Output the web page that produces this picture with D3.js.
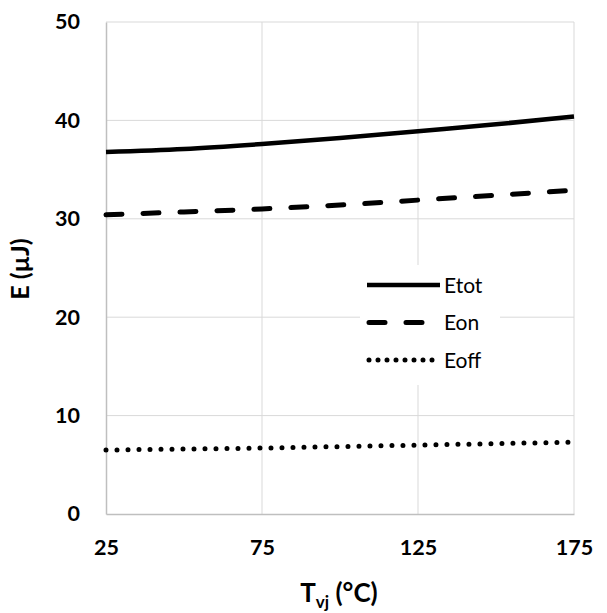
<!DOCTYPE html>
<html>
<head>
<meta charset="utf-8">
<script src="https://cdn.jsdelivr.net/npm/d3@7"></script>
<style>
  body { margin: 0; background: #fff; }
  text { font-family: Lato, "Liberation Sans", sans-serif; }
</style>
</head>
<body>
<div id="chartGoesHere"></div>
<script>
// switching energy vs junction temperature

var temps = [25, 50, 75, 100, 125, 150, 175],
    eTot = [36.8, 37.1, 37.6, 38.2, 38.9, 39.6, 40.4],
    eOn = [30.4, 30.7, 31.0, 31.4, 31.9, 32.4, 32.9],
    eOff = [6.5, 6.6, 6.7, 6.85, 7.0, 7.15, 7.3],
    xTicks = [25, 75, 125, 175],
    yTicks = [0, 10, 20, 30, 40, 50],
    seriesNames = ["Etot", "Eon", "Eoff"];

var width = 607, height = 613,
    margin = {top: 22, right: 33, bottom: 99, left: 106};

var svg = d3.select("#chartGoesHere")
  .append("svg")
  .attr("width", width)
  .attr("height", height);

var xScale = d3.scaleLinear().domain([25, 175]).range([margin.left, width - margin.right]);
var yScale = d3.scaleLinear().domain([0, 50]).range([height - margin.bottom, margin.top]);

// gridlines
svg.append("g")
  .selectAll("line.hgrid")
  .data(yTicks.slice(1))
  .join("line")
  .attr("x1", xScale(25)).attr("x2", xScale(175))
  .attr("y1", d => yScale(d)).attr("y2", d => yScale(d))
  .attr("stroke", "#d9d9d9").attr("stroke-width", 1);

svg.append("g")
  .selectAll("line.vgrid")
  .data(xTicks.slice(1))
  .join("line")
  .attr("x1", d => xScale(d)).attr("x2", d => xScale(d))
  .attr("y1", yScale(0)).attr("y2", yScale(50))
  .attr("stroke", "#d9d9d9").attr("stroke-width", 1);

// axes
var xAxis = d3.axisBottom(xScale).tickValues(xTicks).tickSize(0).tickPadding(26);
var yAxis = d3.axisLeft(yScale).tickValues(yTicks).tickSize(0).tickPadding(26);

var gx = svg.append("g")
  .attr("transform", "translate(0," + yScale(0) + ")")
  .call(xAxis);
var gy = svg.append("g")
  .attr("transform", "translate(" + xScale(25) + ",0)")
  .call(yAxis);

[gx, gy].forEach(function(g){
  g.select(".domain").attr("stroke", "#bfbfbf").attr("stroke-width", 1.5);
  g.selectAll("text")
    .attr("font-family", "Lato, 'Liberation Sans', sans-serif")
    .attr("font-size", 21.5)
    .attr("font-weight", "bold")
    .attr("fill", "#000");
});
gx.selectAll("text").attr("dy", "0.71em");

// axis titles
var xTitle = svg.append("text")
  .attr("x", 339)
  .attr("y", 602)
  .attr("text-anchor", "middle")
  .attr("font-size", 26)
  .attr("font-weight", "bold");
xTitle.append("tspan").text("T");
xTitle.append("tspan").attr("font-size", 17).attr("dy", 6).text("vj");
xTitle.append("tspan").attr("dy", -6).text(" (°C)");

svg.append("text")
  .attr("transform", "translate(29," + (yScale(25) + 1) + ") rotate(-90)")
  .attr("text-anchor", "middle")
  .attr("font-size", 25)
  .attr("font-weight", "bold")
  .text("E (µJ)");

// series lines
var styles = [
  {dash: null, cap: "butt", w: 4.5, legDash: null},
  {dash: "16,21", cap: "round", w: 5, legDash: "16,21"},
  {dash: "0,11", cap: "round", w: 5, legDash: "0,9"}
];
var allSeries = [eTot, eOn, eOff];

var lineGen = d3.line()
  .x((d, i) => xScale(temps[i]))
  .y(d => yScale(d))
  .curve(d3.curveMonotoneX);

allSeries.forEach(function(s, k){
  svg.append("path")
    .datum(s)
    .attr("d", lineGen)
    .attr("fill", "none")
    .attr("stroke", "#000")
    .attr("stroke-width", styles[k].w)
    .attr("stroke-linecap", styles[k].cap)
    .attr("stroke-dasharray", styles[k].dash);
});

// legend
var legend = svg.append("g");
legend.append("rect")
  .attr("x", 360).attr("y", 265)
  .attr("width", 140).attr("height", 120)
  .attr("fill", "#fff");

seriesNames.forEach(function(name, k){
  var ly = 285 + k * 37.5;
  var x1 = styles[k].cap === "round" ? 369 : 367;
  legend.append("line")
    .attr("x1", x1).attr("x2", 440)
    .attr("y1", ly).attr("y2", ly)
    .attr("stroke", "#000")
    .attr("stroke-width", styles[k].w)
    .attr("stroke-linecap", styles[k].cap)
    .attr("stroke-dasharray", styles[k].legDash);
  legend.append("text")
    .attr("x", 444).attr("y", ly)
    .attr("dy", "0.36em")
    .attr("font-size", 21)
    .text(name);
});
</script>
</body>
</html>
